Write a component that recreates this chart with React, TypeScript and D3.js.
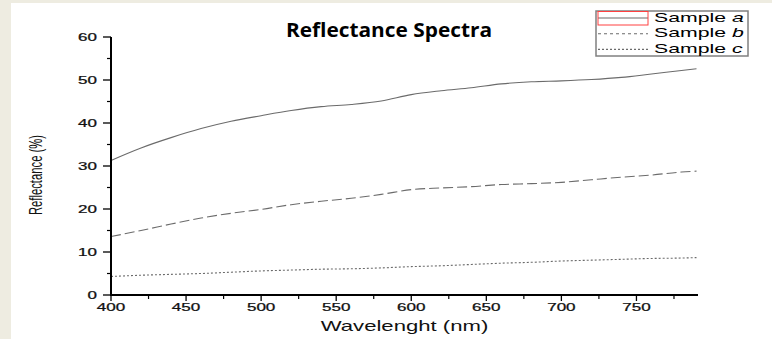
import React from "react";
import * as d3 from "d3";

const wavelengths = [400, 420, 440, 460, 480, 500, 520, 540, 560, 580, 600, 620, 640, 660, 680, 700, 720, 740, 760, 780, 790];
const sampleA = [31.3, 34.2, 36.6, 38.7, 40.4, 41.7, 42.9, 43.8, 44.3, 45.1, 46.6, 47.5, 48.2, 49.1, 49.6, 49.8, 50.1, 50.6, 51.4, 52.2, 52.6];
const sampleB = [13.6, 15.0, 16.5, 17.9, 19.0, 19.9, 21.0, 21.8, 22.5, 23.4, 24.5, 24.9, 25.2, 25.7, 25.9, 26.2, 26.8, 27.4, 27.9, 28.6, 28.8];
const sampleC = [4.3, 4.6, 4.8, 5.0, 5.3, 5.6, 5.8, 6.0, 6.1, 6.3, 6.6, 6.8, 7.1, 7.4, 7.6, 7.9, 8.1, 8.3, 8.5, 8.6, 8.7];
const seriesNames = ["a", "b", "c"];
const xTicks = [400, 450, 500, 550, 600, 650, 700, 750];
const xMinorTicks = [425, 475, 525, 575, 625, 675, 725, 775];
const yTicks = [0, 10, 20, 30, 40, 50, 60];
const yMinorTicks = [5, 15, 25, 35, 45, 55];

const W = 772;
const H = 339;

export default function App() {
  const x = d3.scaleLinear().domain([400, 791]).range([111, 698]);
  const y = d3.scaleLinear().domain([0, 60]).range([295, 37]);
  const line = d3
    .line<number>()
    .x((_, i) => x(wavelengths[i]))
    .y((d) => y(d))
    .curve(d3.curveMonotoneX);

  const series = [
    { data: sampleA, dash: undefined as string | undefined },
    { data: sampleB, dash: "10,4" },
    { data: sampleC, dash: "2,2" },
  ];

  const legendX = 596;
  const legendY = 11;
  const legendW = 152;
  const legendH = 45;

  return (
    <div style={{ position: "absolute", left: 0, top: 0 }}>
      <svg width={W} height={H} style={{ display: "block" }}>
        <defs>
          <clipPath id="legclip">
            <rect x={legendX} y={legendY} width={legendW} height={legendH} />
          </clipPath>
        </defs>
        <rect x={0} y={0} width={W} height={H} fill="#eeece1" />
        <rect x={11} y={3} width={W - 11} height={H - 3} fill="#ffffff" />

        {/* title */}
        <text
          x={389}
          y={37}
          textAnchor="middle"
          fontFamily="'Open Sans', sans-serif"
          fontWeight="bold"
          fontSize={20}
          textLength={206}
          lengthAdjust="spacingAndGlyphs"
          fill="#000"
        >
          Reflectance Spectra
        </text>

        {/* series */}
        {series.map((s, i) => (
          <path
            key={i}
            d={line(s.data) || ""}
            fill="none"
            stroke="#6b6b6b"
            strokeWidth={1.1}
            strokeDasharray={s.dash}
          />
        ))}

        {/* y axis */}
        <line x1={x(400)} x2={x(400)} y1={y(0) + 1} y2={y(60)} stroke="#000" strokeWidth={2} />
        {yTicks.map((t) => (
          <g key={"yt" + t}>
            <line x1={x(400) - 8} x2={x(400)} y1={y(t)} y2={y(t)} stroke="#000" strokeWidth={1.3} />
            <text
              transform={`translate(97,${y(t) + 3.5}) scale(1.7,1)`}
              textAnchor="end"
              fontFamily="'Liberation Sans', Arial, sans-serif"
              fontSize={10}
              stroke="#111"
              strokeWidth={0.25}
              fill="#111"
            >
              {t}
            </text>
          </g>
        ))}
        {yMinorTicks.map((t) => (
          <line key={"ym" + t} x1={x(400) - 4} x2={x(400)} y1={y(t)} y2={y(t)} stroke="#000" strokeWidth={1.2} />
        ))}

        {/* x axis */}
        <line x1={x(400) - 1} x2={x(791)} y1={y(0)} y2={y(0)} stroke="#000" strokeWidth={2} />
        {xTicks.map((t) => (
          <g key={"xt" + t}>
            <line x1={x(t)} x2={x(t)} y1={y(0)} y2={y(0) + 6} stroke="#000" strokeWidth={1.3} />
            <text
              transform={`translate(${x(t)},311) scale(1.55,1)`}
              textAnchor="middle"
              fontFamily="'Liberation Sans', Arial, sans-serif"
              fontSize={11}
              stroke="#111"
              strokeWidth={0.25}
              fill="#111"
            >
              {t}
            </text>
          </g>
        ))}
        {xMinorTicks.map((t) => (
          <line key={"xm" + t} x1={x(t)} x2={x(t)} y1={y(0)} y2={y(0) + 4} stroke="#000" strokeWidth={1.2} />
        ))}

        {/* axis titles */}
        <text
          transform={`translate(404.5,331) scale(1.58,1)`}
          textAnchor="middle"
          fontFamily="'Liberation Sans', Arial, sans-serif"
          fontSize={14}
          fill="#111"
        >
          Wavelenght (nm)
        </text>
        <text
          transform={`translate(41.5,175) rotate(-90)`}
          textAnchor="middle"
          fontFamily="'Liberation Sans', Arial, sans-serif"
          fontSize={18}
          textLength={80}
          lengthAdjust="spacingAndGlyphs"
          fill="#111"
        >
          Reflectance (%)
        </text>

        {/* legend */}
        <g>
          <rect x={legendX} y={legendY} width={legendW} height={legendH} fill="#fff" stroke="#808080" strokeWidth={1.5} />
          <g clipPath="url(#legclip)">
            {series.map((s, i) => {
              const cy = legendY + 7 + i * 15.7;
              return (
                <g key={"lg" + i}>
                  <line x1={598} x2={648} y1={cy} y2={cy} stroke="#6b6b6b" strokeWidth={1.1} strokeDasharray={s.dash === "10,4" ? "3,3" : s.dash} />
                  <text
                    transform={`translate(654,${cy + 3.5}) scale(1.7,1)`}
                    fontFamily="'Liberation Sans', Arial, sans-serif"
                    fontSize={12.5}
                    fill="#000"
                  >
                    Sample <tspan fontStyle="italic">{seriesNames[i]}</tspan>
                  </text>
                </g>
              );
            })}
          </g>
          <rect x={598} y={legendY + 0.5} width={50} height={13.5} fill="none" stroke="#ff4040" strokeWidth={1} />
        </g>
      </svg>
    </div>
  );
}
